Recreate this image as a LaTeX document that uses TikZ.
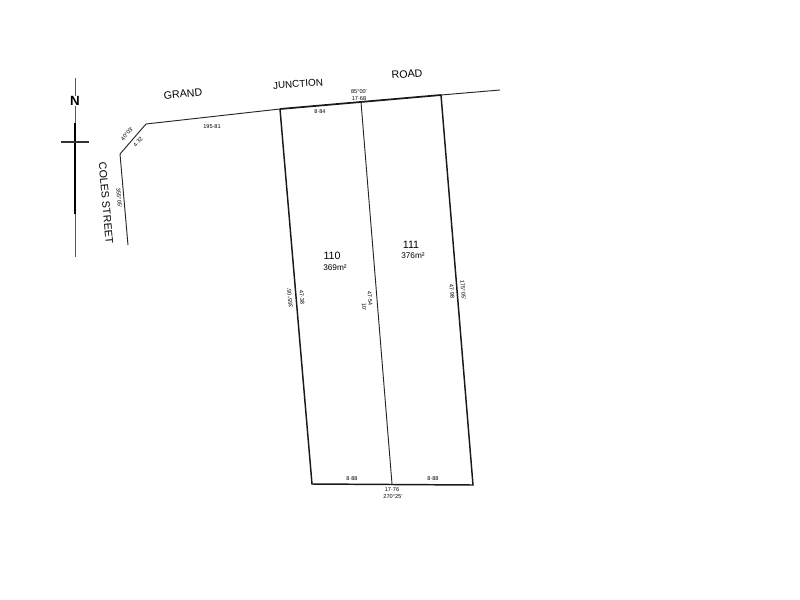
\documentclass[tikz,border=0pt]{standalone}
\usepackage{fontspec}
\setmainfont{Liberation Sans}
\begin{document}
\begin{tikzpicture}[x=0.75pt,y=-0.75pt,
  road/.style={font=\fontsize{8}{8}\selectfont,inner sep=0pt,text=black},
  dim/.style={font=\fontsize{4.2}{4.2}\selectfont,inner sep=0pt,text=black},
  lotno/.style={font=\fontsize{8}{8}\selectfont,inner sep=0pt,text=black},
  area/.style={font=\fontsize{6.2}{6.2}\selectfont,inner sep=0pt,text=black},
  thinl/.style={line width=0.7pt,black!85},
  med/.style={line width=1.1pt,black!90},
  heavy/.style={line width=1.3pt,black!90}]
\useasboundingbox[fill=white] (0,0) rectangle (800,600);
% north point
\coordinate (nt) at (75,78); \coordinate (nb) at (75,257);
\coordinate (ht) at (75,123); \coordinate (hb) at (75,214);
\coordinate (wl) at (61,142); \coordinate (wr) at (89,142);
\draw[line width=0.7pt,black!65] (nt) -- (nb);
\draw[line width=2.2pt,black] (ht) -- (hb);
\draw[line width=0.8pt,black!80] (wl) -- (wr);
\node[fill=white,inner sep=0.6pt,font=\bfseries\fontsize{10}{10}\selectfont] (north) at (75,101) {N};
% road boundary
\coordinate (cs) at (128,245); \coordinate (c1) at (120,154); \coordinate (c2) at (146,124);
\coordinate (la) at (280,109); \coordinate (lb) at (361,102); \coordinate (lc) at (441,95);
\coordinate (re) at (500,90);
\coordinate (ba) at (312,484); \coordinate (bb) at (392,484); \coordinate (bc) at (473,485);
\draw[thinl] (cs) -- (c1) -- (c2) -- (la);
\draw[thinl] (lc) -- (re);
\draw[heavy] (la) -- (lc);
\draw[med] (la) -- (ba) -- (bc) -- (lc);
\draw[line width=0.7pt,black!85] (lb) -- (bb);
% road labels
\node[road,rotate=5] (t1) at (183,94) {GRAND};
\node[road,rotate=4,font=\fontsize{7.4}{7.4}\selectfont] (t2) at (298,84) {JUNCTION};
\node[road,rotate=4] (t3) at (407,74) {ROAD};
\node[road,rotate=-85] (t4) at (106,203) {COLES STREET};
% dims
\node[dim,rotate=50] (d1) at (127,134) {40°03'};
\node[dim,rotate=50] (d2) at (138,142) {4·32};
\node[dim,rotate=-85] (d3) at (119,198) {355°05'};
\node[dim] (d4) at (212,127) {195·81};
\node[dim] (d5) at (320,112) {8·84};
\node[dim] (d6) at (359,92) {85°00'};
\node[dim] (d7) at (359,99) {17·68};
\node[dim,rotate=95] (d8) at (290,298) {355°05'};
\node[dim,rotate=-85] (d9) at (302,297) {47·38};
\node[dim,rotate=-85] (d10) at (370,298) {47·54};
\node[dim,rotate=-85] (d11) at (364,307) {10'};
\node[dim,rotate=-85] (d12) at (452,291) {47·98};
\node[dim,rotate=-85] (d13) at (463,290) {175°05'};
\node[dim] (d14) at (352,479) {8·88};
\node[dim] (d15) at (433,479) {8·88};
\node[dim] (d16) at (392,490) {17·76};
\node[dim] (d17) at (393,497) {270°25'};
% lots
\node[lotno] (l110) at (332,256) {110};
\node[area] (a110) at (335,268) {369m²};
\node[lotno] (l111) at (411,245) {111};
\node[area] (a111) at (413,256) {376m²};
\end{tikzpicture}
\end{document}
